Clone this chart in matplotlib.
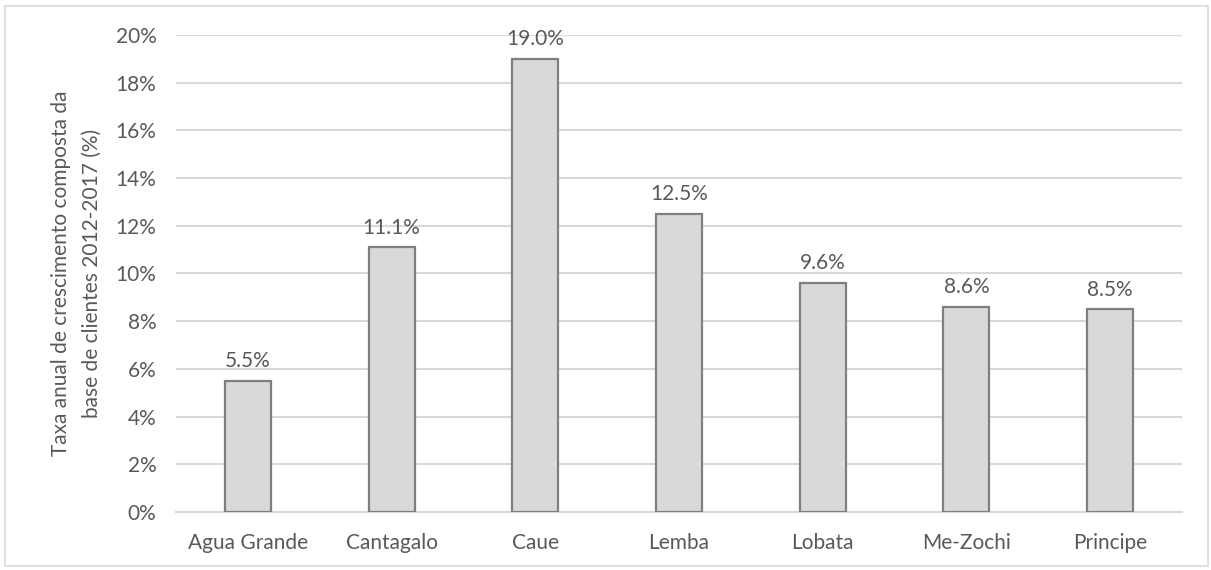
import matplotlib.pyplot as plt
from matplotlib.patches import Rectangle
from matplotlib.ticker import FuncFormatter

districts = ["Agua Grande", "Cantagalo", "Caue", "Lemba", "Lobata", "Me-Zochi", "Principe"]
growth = [5.5, 11.1, 19.0, 12.5, 9.6, 8.6, 8.5]
yticks = [0, 2, 4, 6, 8, 10, 12, 14, 16, 18, 20]

plt.rcParams['font.family'] = ['Lato', 'DejaVu Sans']
TXT = "#595959"

fig = plt.figure(figsize=(12.11, 5.70), dpi=100)
ax = fig.add_axes([0.1453, 0.1018, 0.8307, 0.8368])

# outer chart frame
fig.patches.append(Rectangle((5 / 1211, 4 / 570), 1203 / 1211, 560 / 570,
                             transform=fig.transFigure, fill=False,
                             edgecolor="#D9D9D9", linewidth=1.2))

x = range(len(districts))
ax.bar(x, growth, width=0.32, color="#D9D9D9", edgecolor="#7F7F7F",
       linewidth=1.6, zorder=3)

for xi, v in zip(x, growth):
    ax.annotate(f"{v:.1f}%", (xi, v), xytext=(0, 7), textcoords="offset points",
                ha="center", va="bottom", fontsize=15, color=TXT)

ax.set_ylim(0, 20)
ax.set_xlim(-0.5, len(districts) - 0.5)
ax.set_yticks(yticks)
ax.yaxis.set_major_formatter(FuncFormatter(lambda v, p: f"{v:.0f}%"))
ax.set_xticks(list(x))
ax.set_xticklabels(districts)
ax.tick_params(axis="both", length=0, labelsize=15, labelcolor=TXT)
ax.tick_params(axis="y", pad=14)
ax.tick_params(axis="x", pad=15)

ax.grid(axis="y", color="#D9D9D9", linewidth=1.5, zorder=0)
for s in ["top", "right", "left"]:
    ax.spines[s].set_visible(False)
ax.spines["bottom"].set_color("#D9D9D9")
ax.spines["bottom"].set_linewidth(1.5)

ax.set_ylabel("Taxa anual de crescimento composta da\nbase de clientes 2012-2017 (%)",
              fontsize=15, color=TXT, labelpad=10, linespacing=1.7)

fig.savefig("out.png", dpi=100)
